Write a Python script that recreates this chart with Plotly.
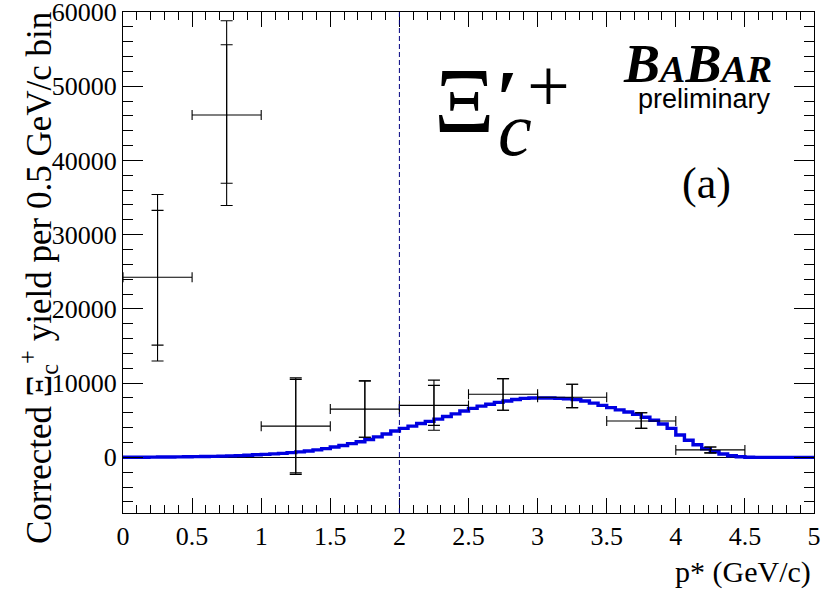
import numpy as np
import plotly.graph_objects as go

# ---------------- data ----------------
# measured points (bin centres in p*, GeV/c) with 0.5 GeV/c bins
p_centers = [0.25, 0.75, 1.25, 1.75, 2.25, 2.75, 3.25, 3.75, 4.25]
p_halfwidth = [0.25] * 9
yield_vals = [24270, 46130, 4200, 6500, 7000, 8500, 8100, 4900, 1000]
stat_up = [9000, 9460, 6300, 3800, 2700, 2100, 1750, 1100, 400]
stat_down = [9150, 9210, 6300, 3800, 2700, 2150, 1400, 1000, 400]
tot_up = [11150, 12700, 6500, 3800, 3400, 2100, 1750, 1100, 400]
tot_down = [11300, 12200, 6500, 3800, 3350, 2150, 1400, 1000, 400]

# model histogram (80 bins from 0 to 5 GeV/c)
hist_lo, hist_hi = 0.0, 5.0
hist_vals = [
    10, 15, 20, 30, 40, 50, 60, 75,
    90, 110, 130, 160, 190, 230, 280, 340,
    400, 460, 540, 630, 740, 860, 1000, 1170,
    1400, 1600, 1850, 2100, 2400, 2750, 3150, 3550,
    3900, 4200, 4550, 4850, 5150, 5500, 5850, 6250,
    6600, 6900, 7150, 7400, 7600, 7800, 7950, 8000,
    8000, 8000, 7950, 7900, 7800, 7600, 7300, 7000,
    6700, 6400, 6100, 5800, 5400, 5000, 4500, 3900,
    3000, 2300, 1700, 1150, 750, 450, 220, 80,
    20, 0, 0, 0, 0, 0, 0, 0,
]

x_range = [0, 5]
y_range = [-7500, 60001]
x_ticks_major = 0.5
y_ticks_major = 10000
cut_p = 2.0

# ---------------- figure ----------------
W, H = 825, 593
ML, MR, MT, MB = 123, 11, 12, 80
PW, PH = W - ML - MR, H - MT - MB


def px2paper(px, py):
    return (px - ML) / PW, (H - MB - py) / PH


edges = np.linspace(hist_lo, hist_hi, len(hist_vals) + 1)
hx = list(edges)
hy = list(hist_vals) + [hist_vals[-1]]

fig = go.Figure()

fig.add_trace(go.Scatter(
    x=hx, y=hy, mode="lines", line=dict(color="rgb(0,0,225)", width=3.4, shape="hv"),
    hoverinfo="skip", showlegend=False,
))

# total errors + x bins
fig.add_trace(go.Scatter(
    x=p_centers, y=yield_vals, mode="markers",
    marker=dict(size=1, color="black"),
    error_x=dict(type="data", array=p_halfwidth, color="black", thickness=1.1, width=5),
    error_y=dict(type="data", symmetric=False, array=tot_up, arrayminus=tot_down,
                 color="black", thickness=1.1, width=6),
    showlegend=False,
))
# statistical errors
fig.add_trace(go.Scatter(
    x=p_centers, y=yield_vals, mode="markers",
    marker=dict(size=1, color="black"),
    error_y=dict(type="data", symmetric=False, array=stat_up, arrayminus=stat_down,
                 color="black", thickness=1.1, width=6),
    showlegend=False,
))

fig.add_shape(type="line", xref="x", yref="paper", x0=cut_p, x1=cut_p, y0=0, y1=1,
              line=dict(color="#000080", width=1, dash="5px,3px"))

serif = "Liberation Serif"
sans = "Liberation Sans"

ann = []


def add_text(text, px, py, size, family=serif, xanchor="center", yanchor="middle", angle=0):
    xp, yp = px2paper(px, py)
    ann.append(dict(text=text, x=xp, y=yp, xref="paper", yref="paper", showarrow=False,
                    xanchor=xanchor, yanchor=yanchor, textangle=angle,
                    font=dict(family=family, size=size, color="black")))


# particle label
add_text("Ξ", 464, 100, 94)
add_text("<b>′</b>", 507, 99, 80)
add_text("+", 548, 85, 76)
add_text("<i>c</i>", 515, 129, 76)

# BaBar logo
add_text("<b><i>B<span style='font-size:38px'>A</span>B<span style='font-size:38px'>AR</span></i></b>",
         697, 64, 54)
add_text("preliminary", 704, 99, 27, family=sans)
add_text("(a)", 706, 184, 44)

# axis titles
add_text("p* (GeV/c)", 813, 572, 30, xanchor="right")
add_text("Corrected Ξ<sub>c</sub><sup>+</sup> yield per 0.5 GeV/c bin", 38, 278, 35, angle=-90)

fig.update_layout(
    width=W, height=H,
    margin=dict(l=ML, r=MR, t=MT, b=MB, pad=0, autoexpand=False),
    paper_bgcolor="white", plot_bgcolor="white",
    annotations=ann,
    showlegend=False,
    font=dict(family=serif, color="black"),
)
fig.update_xaxes(
    range=x_range, showgrid=False, zeroline=False, automargin=False,
    showline=True, linecolor="black", linewidth=1, mirror="allticks",
    ticks="inside", ticklen=15, tickcolor="black", tickwidth=1,
    tick0=0, dtick=x_ticks_major, ticklabeloverflow="allow",
    minor=dict(ticks="inside", ticklen=8, dtick=0.1, tickcolor="black", showgrid=False),
    tickfont=dict(family=serif, size=26, color="black"),
)
fig.update_yaxes(
    range=y_range, showgrid=False, automargin=False,
    zeroline=True, zerolinecolor="black", zerolinewidth=1,
    showline=True, linecolor="black", linewidth=1, mirror="allticks",
    ticks="inside", ticklen=20, tickcolor="black", tickwidth=1,
    tick0=0, dtick=y_ticks_major, tickformat="d", ticklabeloverflow="allow",
    minor=dict(ticks="inside", ticklen=10, dtick=2000, tickcolor="black", showgrid=False),
    tickfont=dict(family=serif, size=26, color="black"),
)

fig.write_html("out.html", config={"displayModeBar": False},
               post_script="document.body.style.margin='0px';")
